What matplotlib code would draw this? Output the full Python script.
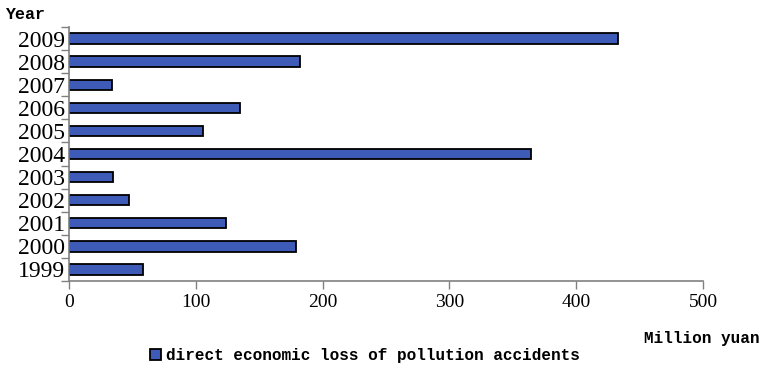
import numpy as np
import matplotlib.pyplot as plt
from matplotlib.ticker import FixedLocator, NullFormatter

# Дані
years = ["1999", "2000", "2001", "2002", "2003", "2004",
         "2005", "2006", "2007", "2008", "2009"]
loss = [58, 179, 124, 47, 35, 364, 106, 135, 34, 182, 433]

fig = plt.figure(figsize=(7.62, 3.7), dpi=100)
ax = fig.add_axes([0.0906, 0.2405, 0.832, 0.6865])

pos = np.arange(len(years))
bars = ax.barh(pos, loss, height=0.45, color="#3f5bb8", edgecolor="black",
               linewidth=1.3, label="direct economic loss of pollution accidents")

ax.set_xlim(0, 500)
ax.set_ylim(-0.5, len(years) - 0.5)
ax.set_xticks([0, 100, 200, 300, 400, 500])
ax.tick_params(axis="x", length=6, width=1, color="#808080", direction="out",
               labelsize=14, pad=3)
for lbl in ax.get_xticklabels():
    lbl.set_family("Liberation Serif")

# риски на межах категорій, підписи по центру
ax.yaxis.set_major_locator(FixedLocator(np.arange(-0.5, len(years), 1.0)))
ax.yaxis.set_major_formatter(NullFormatter())
ax.yaxis.set_minor_locator(FixedLocator(pos))
ax.set_yticklabels(years, minor=True, family="Liberation Serif", fontsize=17)
ax.tick_params(axis="y", which="major", length=6, width=1, color="#808080")
ax.tick_params(axis="y", which="minor", length=0, pad=3)

for s in ["top", "right"]:
    ax.spines[s].set_visible(False)
for s in ["left", "bottom"]:
    ax.spines[s].set_color("#808080")
    ax.spines[s].set_linewidth(1.2)

fig.text(0.007, 0.962, "Year", family="Liberation Mono", fontweight="bold",
         fontsize=12, va="center", ha="left")
fig.text(0.997, 0.086, "Million yuan", family="Liberation Mono", fontweight="bold",
         fontsize=11.5, va="center", ha="right")

fig.legend(handles=[bars], loc="center", bbox_to_anchor=(0.479, 0.04),
           frameon=False, handlelength=0.7, handleheight=0.7, handletextpad=0.3,
           prop={"family": "Liberation Mono", "weight": "bold", "size": 11.5})

fig.savefig("out.png", dpi=100)
